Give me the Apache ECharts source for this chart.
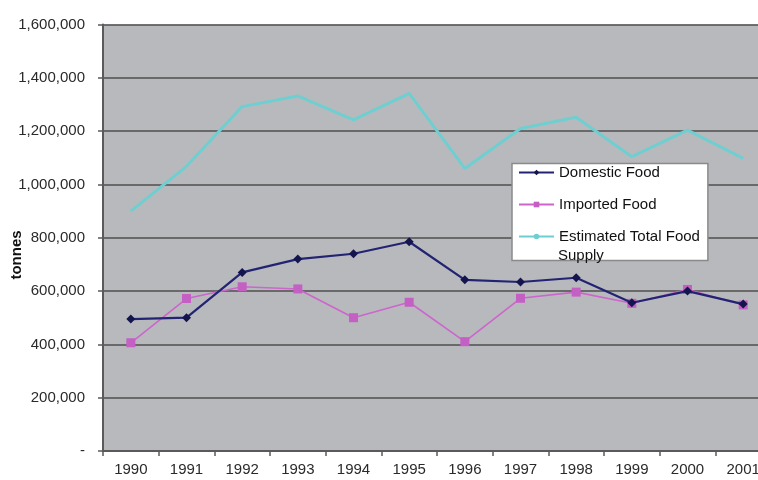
<!DOCTYPE html>
<html>
<head>
<meta charset="utf-8">
<script src="https://cdn.jsdelivr.net/npm/echarts@6/dist/echarts.min.js"></script>
<style>
html,body{margin:0;padding:0;background:#fff;overflow:hidden;width:758px;height:480px;}
#c{width:771px;height:480px;}
</style>
</head>
<body>
<div id="c"></div>
<script>
var years = ['1990','1991','1992','1993','1994','1995','1996','1997','1998','1999','2000','2001'];
var domesticFood = [495000, 500000, 670000, 720000, 740000, 785000, 642000, 634000, 650000, 556000, 600000, 551000];
var importedFood = [406000, 572000, 616000, 608000, 500000, 558000, 410000, 573000, 596000, 554000, 606000, 548000];
var totalSupply = [900000, 1068000, 1292000, 1332000, 1242000, 1342000, 1060000, 1210000, 1252000, 1104000, 1204000, 1098000];

var FONT = '"Liberation Sans", Arial, sans-serif';
var chart = echarts.init(document.getElementById('c'));
chart.setOption({
  animation: false,
  backgroundColor: '#ffffff',
  textStyle: { fontFamily: FONT },
  grid: {
    left: 103, right: 0, top: 24.5, bottom: 29,
    show: true, backgroundColor: '#b8b9bd', borderWidth: 0
  },
  xAxis: {
    type: 'category',
    data: years,
    boundaryGap: true,
    axisLine: { lineStyle: { color: '#5a5a5a', width: 2 } },
    axisTick: { show: true, length: 5, alignWithLabel: false, lineStyle: { color: '#5a5a5a', width: 1.5 } },
    axisLabel: { margin: 11, fontSize: 15, color: '#2a2a2a', fontFamily: FONT, interval: 0 }
  },
  yAxis: {
    type: 'value',
    min: 0, max: 1600000, interval: 200000,
    axisLine: { show: true, lineStyle: { color: '#5a5a5a', width: 2 } },
    axisTick: { show: true, length: 5, lineStyle: { color: '#5a5a5a', width: 1.5 } },
    splitLine: { show: true, lineStyle: { color: '#4f4f4f', width: 1.6 } },
    axisLabel: {
      margin: 18, fontSize: 15, color: '#2a2a2a', fontFamily: FONT,
      formatter: function (v) { return v === 0 ? '-' : v.toLocaleString('en-US'); }
    }
  },
  legend: {
    orient: 'vertical',
    left: 512, top: 163.5,
    padding: [1, 8, 16, 6],
    backgroundColor: '#ffffff',
    borderColor: '#8a8a8a', borderWidth: 1.5,
    itemWidth: 35, itemHeight: 7, itemGap: 16,
    textStyle: { fontSize: 15, color: '#111', fontFamily: FONT, lineHeight: 16 },
    formatter: function (name) { return name === 'Estimated Total Food Supply' ? 'Estimated Total Food' : name; },
    data: ['Domestic Food', 'Imported Food', 'Estimated Total Food Supply']
  },
  graphic: [
    { type: 'text', z: 100, left: 558, top: 248, style: { text: 'Supply', fontSize: 15, fill: '#111', fontFamily: FONT } },
    { type: 'text', z: 100, x: 17, y: 255, rotation: Math.PI / 2,
      style: { text: 'tonnes', fontSize: 15, fontWeight: 'bold', fill: '#111', fontFamily: FONT, textAlign: 'center', textVerticalAlign: 'middle' } }
  ],
  series: [
    {
      name: 'Domestic Food', type: 'line', data: domesticFood,
      symbol: 'diamond', symbolSize: 9,
      lineStyle: { color: '#232373', width: 2.2 },
      itemStyle: { color: '#14144e' }, z: 4
    },
    {
      name: 'Imported Food', type: 'line', data: importedFood,
      symbol: 'rect', symbolSize: 9,
      lineStyle: { color: '#cc66cc', width: 1.6 },
      itemStyle: { color: '#c45fc4' }, z: 3
    },
    {
      name: 'Estimated Total Food Supply', type: 'line', data: totalSupply,
      symbol: 'none',
      lineStyle: { color: '#6fcfd0', width: 3 },
      itemStyle: { color: '#6fcfd0' }, z: 2
    }
  ]
});
</script>
</body>
</html>
